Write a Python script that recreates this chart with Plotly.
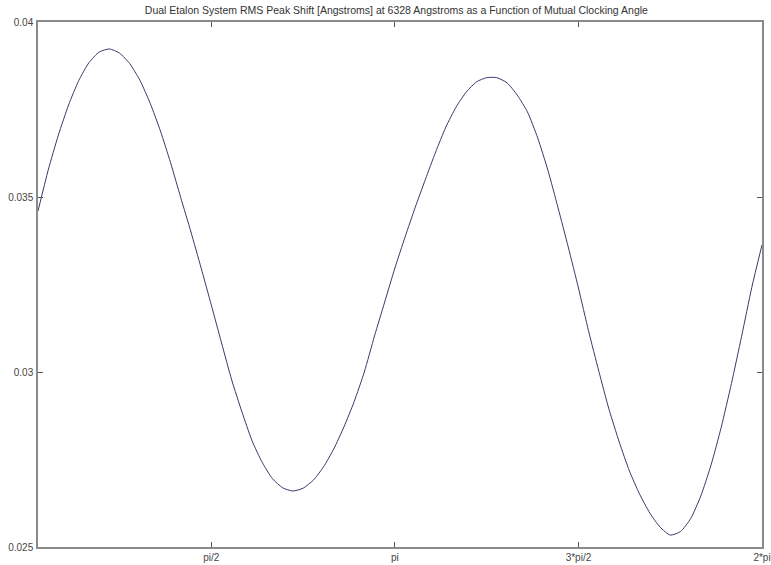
import numpy as np
import plotly.graph_objects as go

title_text = "Dual Etalon System RMS Peak Shift [Angstroms] at 6328 Angstroms as a Function of Mutual Clocking Angle"

# clocking angle in degrees
angle_deg = [5, 10, 15, 20, 25, 30, 35, 40, 45, 50, 55, 60, 65, 70, 75, 80, 85, 90,
             95, 100, 105, 110, 115, 120, 125, 130, 135, 140, 145, 150, 155, 160, 165, 170,
             175, 180, 185, 190, 195, 200, 205, 210, 215, 220, 225, 230, 235, 240, 245, 250,
             255, 260, 265, 270, 275, 280, 285, 290, 295, 300, 305, 310, 315, 320, 325, 330,
             335, 340, 345, 350, 355, 360]

rms_shift = [0.03460, 0.03577, 0.03677, 0.03763, 0.03833, 0.03884, 0.03914, 0.03923,
             0.03911, 0.03881, 0.03833, 0.03768, 0.03689, 0.03598, 0.03498, 0.03400,
             0.03297, 0.03191, 0.03083, 0.02977, 0.02886, 0.02803, 0.02741, 0.02695,
             0.02669, 0.02660, 0.02668, 0.02691, 0.02729, 0.02780, 0.02843, 0.02915,
             0.03000, 0.03103, 0.03200, 0.03297, 0.03386, 0.03471, 0.03551, 0.03629,
             0.03700, 0.03757, 0.03800, 0.03829, 0.03841, 0.03841, 0.03826, 0.03791,
             0.03743, 0.03669, 0.03577, 0.03469, 0.03357, 0.03240, 0.03116, 0.03002,
             0.02893, 0.02800, 0.02717, 0.02651, 0.02597, 0.02557, 0.02534, 0.02544,
             0.02581, 0.02646, 0.02734, 0.02842, 0.02967, 0.03102, 0.03242, 0.03363]

x_tick_vals = [np.pi / 2, np.pi, 3 * np.pi / 2, 2 * np.pi]
x_tick_text = ["pi/2", "pi", "3*pi/2", "2*pi"]
y_tick_vals = [0.025, 0.03, 0.035, 0.04]
y_tick_text = ["0.025", "0.03", "0.035", "0.04"]

x = np.deg2rad(angle_deg)

fig = go.Figure()
fig.add_trace(go.Scatter(x=x, y=rms_shift, mode="lines",
                         line=dict(color="#3a3a6a", width=1, shape="spline", smoothing=0.6),
                         showlegend=False, hoverinfo="skip", cliponaxis=False))

axis_common = dict(showgrid=False, zeroline=False, showline=True, linecolor="#8a8a8a",
                   linewidth=1.5, mirror="ticks", ticks="inside", ticklen=5,
                   tickcolor="#555555", tickwidth=1, automargin=False,
                   tickfont=dict(family="Liberation Sans, Arial, sans-serif", size=10, color="#444444"))

fig.update_xaxes(range=[np.deg2rad(5), 2 * np.pi], tickmode="array",
                 tickvals=x_tick_vals, ticktext=x_tick_text, ticklabelstandoff=0, **axis_common)
fig.update_yaxes(range=[0.025, 0.04], tickmode="array",
                 tickvals=y_tick_vals, ticktext=y_tick_text, ticklabelstandoff=1, **axis_common)

fig.update_layout(
    width=771, height=565,
    margin=dict(l=38, r=9, t=22, b=18),
    paper_bgcolor="white", plot_bgcolor="white",
    title=dict(text=title_text, x=0.495, xref="paper", xanchor="center",
               yref="container", y=0.988, yanchor="top",
               font=dict(family="Liberation Sans, Arial, sans-serif", size=10.5, color="#333333")),
)

fig.write_html("out.html", config={"displayModeBar": False},
               post_script="document.body.style.margin='0';document.body.style.overflow='hidden';")
